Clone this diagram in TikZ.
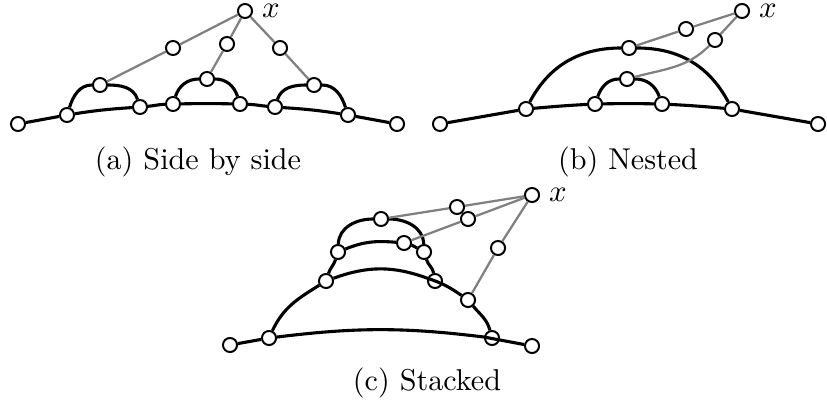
\documentclass[tikz,border=0pt]{standalone}
\usetikzlibrary{calc}
\usetikzlibrary{positioning}

\tikzset{
  vert/.style={circle,draw,fill=white,inner sep=0pt,minimum size=5pt,line width=.7pt},
  arcline/.style={line width=1.1pt},
  link/.style={gray,line width=.8pt},
  xlab/.style={inner sep=0pt}
}

\begin{document}
\begin{tikzpicture}[x=.355pt,y=.355pt,font=\fontsize{10.7}{13}\selectfont]
\useasboundingbox (0,0) rectangle (827,-401);
% (a) side by side
\node[vert] (a0) at (18,-124) {};
\node[vert] (a1) at (67,-115) {};
\node[vert] (a2) at (140,-107) {};
\node[vert] (a3) at (173,-104) {};
\node[vert] (a4) at (240,-104) {};
\node[vert] (a5) at (275,-107) {};
\node[vert] (a6) at (348,-115) {};
\node[vert] (a7) at (397,-124) {};
\node[vert] (at1) at (100,-85) {};
\node[vert] (at2) at (207,-79) {};
\node[vert] (at3) at (314,-85) {};
\node[vert] (am1) at (173,-48) {};
\node[vert] (am2) at (227,-44) {};
\node[vert] (am3) at (280,-48) {};
\node[vert] (ax) at (245,-11) {};
\node[xlab] (axl) [right=3pt of ax] {$x$};
\draw[arcline] (a0) -- (a1) to[out=9,in=184] (a2) to[out=5,in=182] (a3)
  to[out=1,in=179] (a4) to[out=-2,in=175] (a5) to[out=-4,in=171] (a6) -- (a7);
\draw[arcline] (a1) to[out=72,in=180] (at1) to[out=0,in=108] (a2);
\draw[arcline] (a3) to[out=72,in=180] (at2) to[out=0,in=108] (a4);
\draw[arcline] (a5) to[out=72,in=180] (at3) to[out=0,in=108] (a6);
\draw[link] (at1) -- (am1) -- (ax);
\draw[link] (at2) -- (am2) -- (ax);
\draw[link] (at3) -- (am3) -- (ax);
\node (capa) at (198,-162) {(a) Side by side};

% (b) nested
\node[vert] (b0) at (440,-124) {};
\node[vert] (b1) at (526,-109) {};
\node[vert] (b2) at (595,-104) {};
\node[vert] (b3) at (662,-104) {};
\node[vert] (b4) at (732,-109) {};
\node[vert] (b5) at (818,-124) {};
\node[vert] (bt1) at (629,-48) {};
\node[vert] (bt2) at (627,-79) {};
\node[vert] (bm1) at (686,-29) {};
\node[vert] (bm2) at (715,-40) {};
\node[vert] (bx) at (742,-11) {};
\node[xlab] (bxl) [right=3pt of bx] {$x$};
\draw[arcline] (b0) -- (b1) to[out=5,in=183] (b2) to[out=1,in=179] (b3)
  to[out=-3,in=175] (b4) -- (b5);
\draw[arcline] (b1) to[out=62,in=180] (bt1) to[out=0,in=118] (b4);
\draw[arcline] (b2) to[out=70,in=180] (bt2) to[out=0,in=110] (b3);
\draw[link] (bt1) -- (bm1) -- (bx);
\draw[link] (bt2) to[out=15,in=225] (bm2) -- (bx);
\node (capb) at (628,-162) {(b) Nested};

% (c) stacked
\node[vert] (c0) at (230,-345) {};
\node[vert] (c1) at (269,-338) {};
\node[vert] (c2) at (492,-338) {};
\node[vert] (c3) at (532,-346) {};
\node[vert] (c4) at (326,-281) {};
\node[vert] (c5) at (435,-281) {};
\node[vert] (c6) at (468,-300) {};
\node[vert] (c7) at (338,-252) {};
\node[vert] (c8) at (424,-252) {};
\node[vert] (c9) at (404,-243) {};
\node[vert] (c10) at (381,-219) {};
\node[vert] (cm1) at (457,-207) {};
\node[vert] (cm2) at (468,-219) {};
\node[vert] (cm3) at (498,-248) {};
\node[vert] (cx) at (532,-195) {};
\node[xlab] (cxl) [right=3pt of cx] {$x$};
\draw[arcline] (c0) -- (c1) to[bend left=7] (c2) -- (c3);
\draw[arcline] (c1) to[out=65,in=212] (c4) to[bend left=20] (c5)
  to[out=-18,in=145] (c6) to[out=-50,in=105] (c2);
\draw[arcline] (c4) to[out=72,in=252] (c7) to[out=22,in=175] (c9)
  to[out=-15,in=150] (c8) to[out=-72,in=100] (c5);
\draw[arcline] (c7) to[out=88,in=180] (c10) to[out=0,in=92] (c8);
\draw[link] (c10) -- (cm1) -- (cx);
\draw[link] (c9) -- (cm2) -- (cx);
\draw[link] (c6) -- (cm3) -- (cx);
\node (capc) at (427,-383) {(c) Stacked};
\end{tikzpicture}
\end{document}
